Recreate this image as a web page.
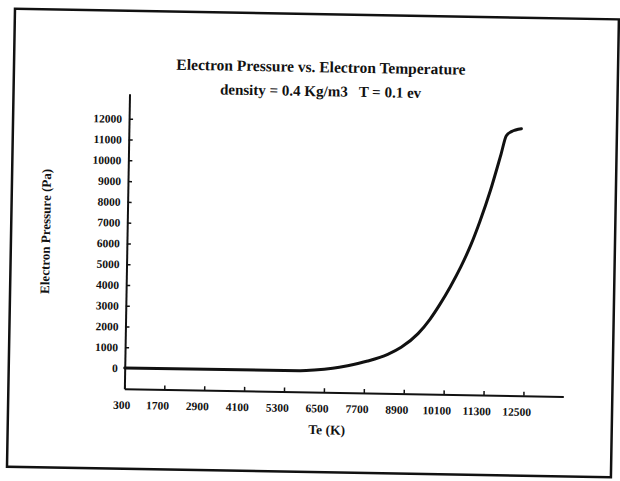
<!DOCTYPE html>
<html>
<head>
<meta charset="utf-8">
<script src="https://cdn.jsdelivr.net/npm/d3@7"></script>
<style>
  body { margin: 0; background: #fff; }
  text { font-family: "Liberation Serif", "DejaVu Serif", serif; font-weight: bold; fill: #111; }
</style>
</head>
<body>
<svg id="PressureChart"></svg>
<script>
// values
const temperatures = [300, 5550, 6000, 6550, 7000, 7600, 8200, 8600, 9100, 9450, 9750, 10050, 10350, 10650, 10900, 11200, 11500, 11650, 11800, 12100];
const pressures = [0, 20, 60, 160, 300, 540, 880, 1230, 1900, 2600, 3350, 4200, 5150, 6250, 7350, 8850, 10600, 11500, 11700, 11850];
const xTickValues = [300, 1500, 2700, 3900, 5100, 6300, 7500, 8700, 9900, 11100, 12300];
const xTickLabels = ["300", "1700", "2900", "4100", "5300", "6500", "7700", "8900", "10100", "11300", "12500"];
const yTickValues = [0, 1000, 2000, 3000, 4000, 5000, 6000, 7000, 8000, 9000, 10000, 11000, 12000];

const chartData = temperatures.map((t, i) => ({ te: t, pe: pressures[i] }));

const getChartConfig = () => {
  const dimensions = {
    width: 620,
    height: 481,
    margin: { top: 97, bottom: 89, left: 127, right: 54 }
  };
  const svg = d3
    .select("#PressureChart")
    .attr("width", dimensions.width)
    .attr("height", dimensions.height);

  // the scan is a little crooked
  const container = svg.append("g").attr("transform", "rotate(1, 310, 240)");

  return { container, dimensions };
};

const getScales = config => {
  const { dimensions } = config;
  const { margin } = dimensions;
  const xScale = d3
    .scaleLinear()
    .domain([300, 13500])
    .range([margin.left, dimensions.width - margin.right]);
  const yScale = d3
    .scaleLinear()
    .domain([-1000, 13200])
    .range([dimensions.height - margin.bottom, margin.top]);
  return { xScale, yScale };
};

const drawFrame = config => {
  config.container
    .append("rect")
    .attr("x", 11)
    .attr("y", 14)
    .attr("width", 604)
    .attr("height", 458)
    .attr("fill", "none")
    .attr("stroke", "#111")
    .attr("stroke-width", 2.5);
};

const drawAxes = (config, scales) => {
  const { container } = config;
  const { xScale, yScale } = scales;

  const xAxis = d3
    .axisBottom(xScale)
    .tickValues(xTickValues)
    .tickFormat((d, i) => xTickLabels[i])
    .tickSizeInner(-4)
    .tickSizeOuter(0)
    .tickPadding(12);

  const xg = container
    .append("g")
    .attr("transform", `translate(0, ${yScale(-1000)})`)
    .call(xAxis);
  // labels sit a bit left of their ticks in the original
  xg.selectAll("text")
    .style("font-size", "11.5px")
    .attr("fill", "#111")
    .attr("dx", (d, i) => (i === 0 ? -3 : -7));

  const yAxis = d3
    .axisLeft(yScale)
    .tickValues(yTickValues)
    .tickFormat(d3.format("d"))
    .tickSizeInner(-4)
    .tickSizeOuter(0)
    .tickPadding(7);

  const yg = container
    .append("g")
    .attr("transform", `translate(${xScale(300)}, 0)`)
    .call(yAxis);
  yg.selectAll("text").style("font-size", "11.5px").attr("fill", "#111");
  yg.selectAll(".tick")
    .filter(d => d === 0)
    .select("line")
    .remove();

  container
    .selectAll(".domain")
    .attr("stroke", "#111")
    .attr("stroke-width", 2)
    .attr("stroke-linejoin", "round");
  container.selectAll(".tick line").attr("stroke", "#111").attr("stroke-width", 1.5);
};

const drawLine = (config, scales) => {
  const { container } = config;
  const { xScale, yScale } = scales;
  container
    .append("path")
    .datum(chartData)
    .attr(
      "d",
      d3
        .line()
        .x(d => xScale(d.te))
        .y(d => yScale(d.pe))
        .curve(d3.curveMonotoneX)
    )
    .attr("fill", "none")
    .attr("stroke", "#111")
    .attr("stroke-width", 3)
    .attr("stroke-linejoin", "round")
    .attr("stroke-linecap", "round");
};

const addLabels = config => {
  const { container } = config;

  container
    .append("text")
    .attr("x", 318)
    .attr("y", 72)
    .attr("text-anchor", "middle")
    .style("font-size", "15.5px")
    .text("Electron Pressure vs. Electron Temperature");

  container
    .append("text")
    .attr("x", 318)
    .attr("y", 96)
    .attr("text-anchor", "middle")
    .style("font-size", "15px")
    .style("white-space", "pre")
    .text("density = 0.4 Kg/m3   T = 0.1 ev");

  container
    .append("text")
    .attr("text-anchor", "middle")
    .attr("transform", "translate(50, 236) rotate(-90)")
    .style("font-size", "13px")
    .text("Electron Pressure (Pa)");

  container
    .append("text")
    .attr("x", 330)
    .attr("y", 434)
    .attr("text-anchor", "middle")
    .style("font-size", "13.5px")
    .text("Te (K)");
};

const renderChart = () => {
  const config = getChartConfig();
  const scales = getScales(config);
  drawFrame(config);
  drawAxes(config, scales);
  drawLine(config, scales);
  addLabels(config);
};

renderChart();
</script>
</body>
</html>
